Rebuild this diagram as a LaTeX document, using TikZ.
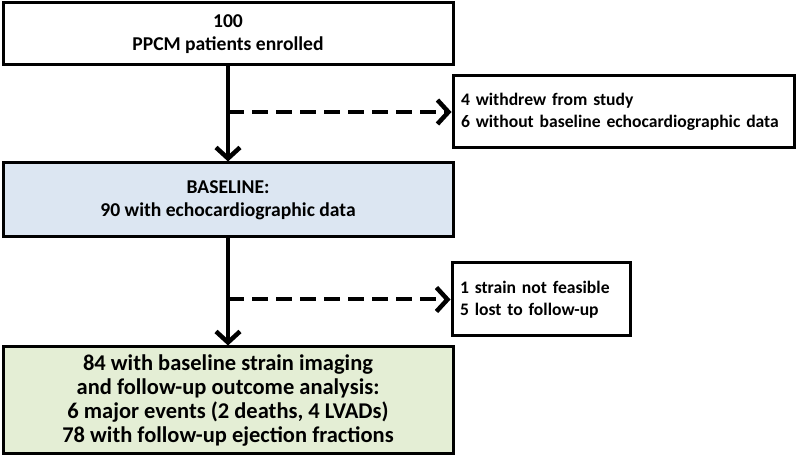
\documentclass[tikz,border=0pt]{standalone}
\usepackage{fontspec}
\setmainfont{Carlito}
\newfontfamily\sidefont{Carlito}[WordSpace=1.6]
\usetikzlibrary{arrows.meta}
\definecolor{bluefill}{HTML}{DCE6F2}
\definecolor{greenfill}{HTML}{E4EED5}
\begin{document}
\begin{tikzpicture}[x=1pt,y=1pt,
  mainbox/.style={draw=black, line width=3pt, minimum width=450pt, align=center, inner sep=0pt,
    font=\fontsize{19.6}{23.5}\selectfont\bfseries},
  sidebox/.style={draw=black, line width=3pt, inner sep=0pt, align=left,
    font=\sidefont\fontsize{17.6}{22}\selectfont\bfseries},
  flow/.style={line width=4pt, -{Straight Barb[length=11pt,width=24pt,line width=4.5pt]}},
  dflow/.style={flow, dash pattern=on 16pt off 8pt}]
\useasboundingbox (0,0) rectangle (800,457);
\node[mainbox, minimum height=62pt] (enrol) at (228,423) {100\\PPCM patients enrolled};
\node[mainbox, minimum height=74pt, fill=bluefill] (base) at (228,257) {BASELINE:\\90 with echocardiographic data};
\node[mainbox, minimum height=107pt, fill=greenfill, font=\fontsize{22.5}{23.7}\selectfont\bfseries] (final) at (228,56.5)
  {84 with baseline strain imaging\\and follow-up outcome analysis:\\6 major events (2 deaths, 4 LVADs)\\78 with follow-up ejection fractions};
\node[sidebox, minimum width=341pt, minimum height=72pt, text width=325pt] (excl1) at (623.5,345)
  {4 withdrew from study\\6 without baseline echocardiographic data};
\node[sidebox, minimum width=178pt, minimum height=73pt, text width=162pt] (excl2) at (541,157.5)
  {1 strain not feasible\\5 lost to follow-up};
\coordinate (b1) at (enrol.south |- excl1.west);
\coordinate (b2) at (base.south |- excl2.west);
\draw[flow] (enrol.south) -- (base.north);
\draw[flow] (base.south) -- (final.north);
\draw[dflow] (b1) -- (excl1.west);
\draw[dflow] (b2) -- (excl2.west);
\end{tikzpicture}
\end{document}
